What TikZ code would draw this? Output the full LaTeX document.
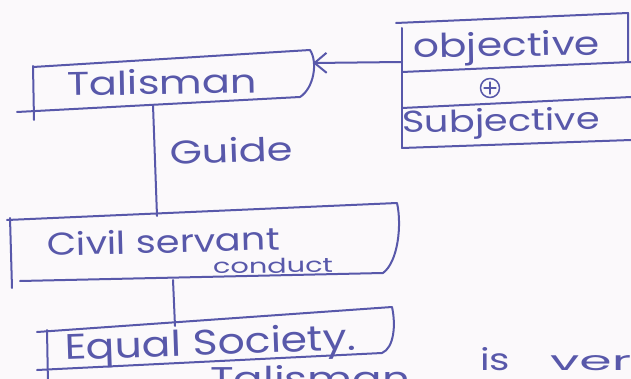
\documentclass[tikz,border=0pt]{standalone}
\usepackage{fontspec}
\setmainfont{Poppins}
\usetikzlibrary{arrows.meta}
\definecolor{ink}{RGB}{88,88,170}
\definecolor{paper}{RGB}{251,249,251}
\newcommand{\hw}[3]{\resizebox{#1pt}{#2pt}{#3}}
\begin{document}
\begin{tikzpicture}[x=1pt,y=-1pt,line cap=round,line join=round,
  edge/.style={draw=ink,line width=2pt},
  txt/.style={text=ink,inner sep=0pt,anchor=base west},
  plusmark/.style={circle,draw=ink,line width=1.5pt,minimum size=19pt,inner sep=0pt}]
\useasboundingbox (0,0) rectangle (631,379);
\clip (0,0) rectangle (631,379);
\fill[paper] (0,0) rectangle (631,379);

% ---- Talisman box
\draw[edge] (33,67) -- (310,50) .. controls (318,62) and (314,88) .. (300,97) -- (17,112);
\draw[edge] (33,66) -- (34,120);
\coordinate (talR) at (313,63);
\coordinate (talB) at (153,105);
\node[txt,rotate=1] (talt) at (67,96) {\hw{190}{25}{Talisman}};

% ---- Objective / Subjective box
\draw[edge] (396,23) -- (628,13) -- (628,62);
\draw[edge] (402,28) -- (402,148);
\draw[edge] (402,72) -- (631,62);
\draw[edge] (402,108) -- (631,97);
\draw[edge] (402,148) -- (631,140);
\coordinate (objL) at (402,62);
\node[txt,rotate=1] (objt) at (413,58) {\hw{187}{25}{objective}};
\node[plusmark] (op) at (490,88) {};
\draw[ink,line width=1.3pt] ([yshift=6pt]op.center) -- ([yshift=-6pt]op.center)
  ([xshift=-6pt]op.center) -- ([xshift=6pt]op.center);
\node[txt,rotate=1] (subt) at (402,133) {\hw{198}{23}{Subjective}};

% ---- Civil servant conduct box
\draw[edge] (7,220) -- (397,203) .. controls (402,225) and (398,262) .. (383,273) -- (20,281);
\draw[edge] (10,218) -- (12,288);
\coordinate (civT) at (157,216);
\coordinate (civB) at (173,280);
\node[txt,rotate=1.5] (civt) at (47,256) {\hw{233}{24}{Civil servant}};
\node[txt,rotate=1] (cond) at (213,274) {\hw{120}{15}{conduct}};

% ---- Equal Society box
\draw[edge] (37,332) -- (392,307) .. controls (396,325) and (394,348) .. (382,353) -- (37,370);
\draw[edge] (47,330) -- (48,385);
\coordinate (eqT) at (175,326);
\node[txt,rotate=2] (eqt) at (65,360) {\hw{291}{27}{Equal Society.}};

% ---- connectors
\draw[edge,-{Straight Barb[length=12pt,width=20pt]}] (objL) -- (talR);
\draw[edge] (talB) -- (civT);
\node[txt,rotate=2] (guide) at (170,165) {\hw{123}{25}{Guide}};
\draw[edge] (civB) -- (eqT);

% ---- cut-off line of text below
\node[txt] (b1) at (210,390) {\hw{200}{25}{Talisman}};
\node[txt] (b2) at (480,370) {\hw{30}{23}{is}};
\node[txt] (b3) at (550,370) {\hw{81}{15}{ver}};
\end{tikzpicture}
\end{document}
